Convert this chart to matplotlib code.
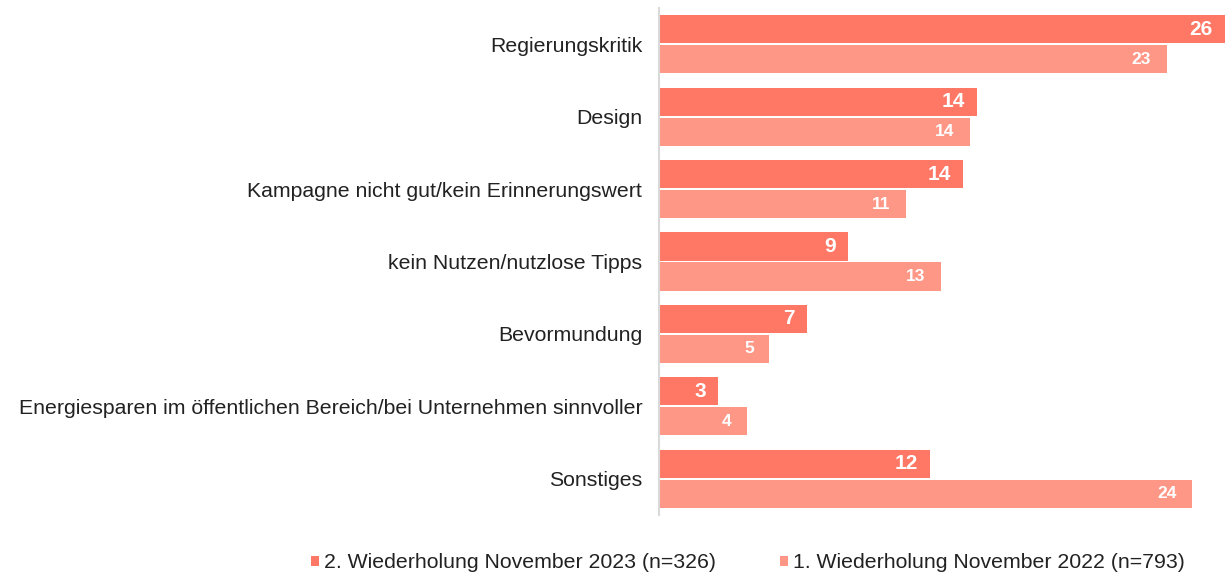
import matplotlib.pyplot as plt
import numpy as np

categories = [
    'Regierungskritik',
    'Design',
    'Kampagne nicht gut/kein Erinnerungswert',
    'kein Nutzen/nutzlose Tipps',
    'Bevormundung',
    'Energiesparen im öffentlichen Bereich/bei Unternehmen sinnvoller',
    'Sonstiges',
]
vals_2023 = [25.7, 14.45, 13.8, 8.6, 6.7, 2.7, 12.3]
vals_2022 = [23.05, 14.1, 11.2, 12.8, 5.0, 4.0, 24.2]
series_names = ['2. Wiederholung November 2023 (n=326)',
                '1. Wiederholung November 2022 (n=793)']

c_dark = '#FF7866'
c_light = '#FF9787'

plt.rcParams['font.family'] = ['Liberation Sans', 'DejaVu Sans']

fig = plt.figure(figsize=(12.25, 5.76), dpi=100)
ax = fig.add_axes([659 / 1225, 61 / 576, 566 / 1225, 507 / 576])

y = np.arange(len(categories))
off = 0.207
h = 0.39
b1 = ax.barh(y - off, vals_2023, height=h, color=c_dark, label=series_names[0])
b2 = ax.barh(y + off, vals_2022, height=h, color=c_light, label=series_names[1])

for rect, v in zip(b1, vals_2023):
    ax.text(rect.get_width() - 0.55, rect.get_y() + rect.get_height() / 2, f'{v:.0f}',
            ha='right', va='center', color='white', fontsize=15, fontweight='bold')
for rect, v in zip(b2, vals_2022):
    ax.text(rect.get_width() - 0.7, rect.get_y() + rect.get_height() / 2, f'{v:.0f}',
            ha='right', va='center', color='white', fontsize=12.5, fontweight='bold')

ax.set_xlim(0, 25.7)
ax.set_ylim(6.5, -0.5)
ax.set_yticks(y)
ax.set_yticklabels(categories, fontsize=15.3, color='#222222')
ax.tick_params(axis='y', length=0, pad=12)
ax.set_xticks([])
for s in ['top', 'right', 'bottom']:
    ax.spines[s].set_visible(False)
ax.spines['left'].set_color('#d9d9d9')
ax.spines['left'].set_linewidth(1.5)

fig.legend(handles=[b1, b2], labels=series_names, loc='center', bbox_to_anchor=(748 / 1225, 1 - 563 / 576),
           ncol=2, frameon=False, fontsize=15.3, handlelength=0.38, handleheight=0.38,
           handletextpad=0.25, columnspacing=3.0, labelcolor='#222222')

fig.savefig('out.png', dpi=100)
